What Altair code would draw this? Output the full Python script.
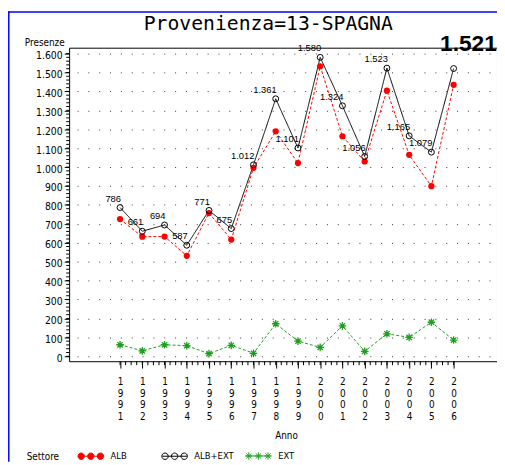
import altair as alt
import pandas as pd

# ---- data ----
years = list(range(1991, 2007))
series = ["ALB", "ALB+EXT", "EXT"]
alb_ext = [786, 661, 694, 587, 771, 675, 1012, 1361, 1101, 1580, 1324, 1056, 1523, 1165, 1079, 1521]
alb = [725, 632, 633, 531, 757, 617, 996, 1189, 1021, 1533, 1163, 1030, 1404, 1065, 899, 1435]
ext = [61, 29, 61, 56, 14, 58, 16, 172, 80, 47, 161, 26, 119, 100, 180, 86]
y_ticks = list(range(0, 1700, 100))
y_minor = list(range(0, 1620, 20))
x_minor = [1991 + 0.25 * k for k in range(61)]
title_text = ["Provenienza=13-SPAGNA"]

rows = []
for name, vals in zip(series, [alb, alb_ext, ext]):
    for yr, v in zip(years, vals):
        rows.append({"Anno": yr, "Settore": name, "Valore": v,
                     "Etichetta": f"{v:,}".replace(",", ".")})
df = pd.DataFrame(rows)

RED, BLACK, GREEN = "#ff0000", "#000000", "#1e9e1e"
AXF = "DejaVu Sans Condensed"
W, H = 434, 318

xs = alt.Scale(domain=[1988.71, 2007.95], nice=False, zero=False)
ys = alt.Scale(domain=[-26, 1631], nice=False, zero=False)

ASTER = ("M-1,0L1,0M0,-1L0,1M-0.7,-0.7L0.7,0.7M-0.7,0.7L0.7,-0.7")


def circ(cx, r):
    return f"M{cx - r:.3f},0A{r},{r} 0 1,0 {cx + r:.3f},0A{r},{r} 0 1,0 {cx - r:.3f},0"


def aster(cx, r):
    d = r * 0.7
    return (f"M{cx - r:.3f},0L{cx + r:.3f},0M{cx:.3f},{-r:.3f}L{cx:.3f},{r:.3f}"
            f"M{cx - d:.3f},{-d:.3f}L{cx + d:.3f},{d:.3f}M{cx - d:.3f},{d:.3f}L{cx + d:.3f},{-d:.3f}")


leg_circle = "M-1,0L1,0" + "".join(circ(c, 0.26) for c in (-0.78, 0, 0.78))
leg_aster = "M-1,0L1,0" + "".join(aster(c, 0.3) for c in (-0.78, 0, 0.78))

base = alt.Chart(df)

lines = base.mark_line(strokeWidth=1).encode(
    x=alt.X("Anno:Q", scale=xs, axis=alt.Axis(
        orient="bottom", values=years, format="d",
        labelExpr="split(datum.label, '')", labelLineHeight=11.7,
        labelBaseline="top", labelAngle=0, labelFont=AXF, labelFontSize=10,
        labelColor="black", labelPadding=9, labelFlush=False, labelOverlap=False,
        tickSize=7, tickColor="black", domain=False, grid=False,
        title="Anno", titleFont=AXF, titleFontSize=10, titleFontWeight="normal",
        titleColor="black", titleX=220, titleY=78, titleBaseline="alphabetic",
        titleAnchor="start", titleAlign="center")),
    y=alt.Y("Valore:Q", scale=ys, axis=alt.Axis(
        orient="left", values=y_ticks,
        labelExpr="replace(format(datum.value, ','), ',', '.')",
        labelFont=AXF, labelFontSize=10.5, labelColor="black", labelPadding=2,
        labelBaseline="middle", labelOffset=2, tickSize=5, tickColor="black", domain=False,
        grid=True, gridDash=[1, 10], gridDashOffset=3, gridColor="black",
        gridOpacity=0.8,
        title="Presenze", titleAngle=0, titleX=-5, titleY=-2, titleAlign="right",
        titleBaseline="alphabetic", titleFont=AXF, titleFontSize=10,
        titleFontWeight="normal", titleColor="black")),
    color=alt.Color("Settore:N", scale=alt.Scale(domain=series, range=[RED, BLACK, GREEN]),
                    legend=None),
    strokeDash=alt.StrokeDash("Settore:N",
                              scale=alt.Scale(domain=series, range=[[3, 2], [1, 0], [3, 2]]),
                              legend=None),
)

# legend (invisible marks)
guide_layer = base.mark_point(opacity=0, size=1).encode(
    x=alt.X("Anno:Q", scale=xs, axis=None),
    y=alt.Y("Valore:Q", scale=ys, axis=None),
    shape=alt.Shape("Settore:N", scale=alt.Scale(
        domain=series, range=[leg_circle, leg_circle, leg_aster]), legend=alt.Legend(
        title="Settore", orient="none", legendX=-43, legendY=401, direction="horizontal",
        titleOrient="left", titlePadding=19, titleFont=AXF, titleFontSize=10,
        titleFontWeight="normal", titleColor="black", titleBaseline="top",
        labelFont=AXF, labelFontSize=9.5, labelColor="black", labelOffset=7,
        symbolSize=625, symbolStrokeWidth=1, symbolOpacity=1,
        gridAlign="all", columnPadding=9)),
    fill=alt.Fill("Settore:N", scale=alt.Scale(domain=series, range=[RED, "white", GREEN])),
    stroke=alt.Stroke("Settore:N", scale=alt.Scale(domain=series, range=[RED, BLACK, GREEN])),
)

# minor ticks drawn through the scales
xminor = alt.Chart(pd.DataFrame({"m": x_minor})).mark_rule(color="black", strokeWidth=1).encode(
    x=alt.X("m:Q", scale=xs, axis=None), y=alt.value(H), y2=alt.value(H + 4))
yminor = alt.Chart(pd.DataFrame({"m": y_minor})).mark_rule(color="black", strokeWidth=1).encode(
    y=alt.Y("m:Q", scale=ys, axis=None), x=alt.value(-3), x2=alt.value(0))

noax_x = alt.X("Anno:Q", scale=xs, axis=None)
noax_y = alt.Y("Valore:Q", scale=ys, axis=None)

alb_pts = base.transform_filter("datum.Settore == 'ALB'").mark_circle(
    size=40, color=RED, opacity=1).encode(x=noax_x, y=noax_y)
tot_pts = base.transform_filter("datum.Settore == 'ALB+EXT'").mark_point(
    shape="circle", size=36, color=BLACK, filled=False, strokeWidth=1, opacity=1
).encode(x=noax_x, y=noax_y)
ext_pts = base.transform_filter("datum.Settore == 'EXT'").mark_point(
    shape=ASTER, size=60, color=GREEN, filled=False, strokeWidth=1.3, opacity=1
).encode(x=noax_x, y=noax_y)

labels = base.transform_filter("datum.Settore == 'ALB+EXT' && datum.Anno < 2006").mark_text(
    align="right", baseline="alphabetic", dx=1, dy=-6,
    font="Liberation Sans", fontSize=9.5, color="black"
).encode(x=noax_x, y=noax_y, text="Etichetta:N")

big = base.transform_filter("datum.Settore == 'ALB+EXT' && datum.Anno == 2006").mark_text(
    align="center", baseline="alphabetic", dx=15, dy=-18,
    font="Liberation Sans", fontSize=23, fontWeight="bold", color="black"
).encode(x=noax_x, y=noax_y, text="Etichetta:N")

title = alt.Chart(pd.DataFrame({"t": title_text})).mark_text(
    font="DejaVu Sans Mono", fontSize=20, color="black", align="center",
    baseline="alphabetic").encode(text="t:N", x=alt.value(202), y=alt.value(-17.5))

frame_l = alt.Chart(pd.DataFrame({"k": [0]})).mark_rule(color="blue", strokeWidth=1.5).encode(
    x=alt.value(-61.2), y=alt.value(-37), y2=alt.value(420))
frame_t = alt.Chart(pd.DataFrame({"k": [0]})).mark_rule(color="blue", strokeWidth=1.5).encode(
    x=alt.value(-62), x2=alt.value(W), y=alt.value(-36.2))

chart = alt.layer(
    lines, guide_layer, xminor, yminor, alb_pts, tot_pts, ext_pts, labels, big,
    title, frame_l, frame_t
).resolve_axis(x="independent", y="independent").resolve_scale(
    shape="independent", fill="independent", stroke="independent"
).properties(
    width=W, height=H,
    autosize=alt.AutoSizeParams(type="none"),
    padding={"left": 62, "top": 37, "right": 0, "bottom": 102},
).configure_view(stroke="black", strokeWidth=1)

chart.save("out.html", embed_options={"renderer": "svg", "actions": False})
